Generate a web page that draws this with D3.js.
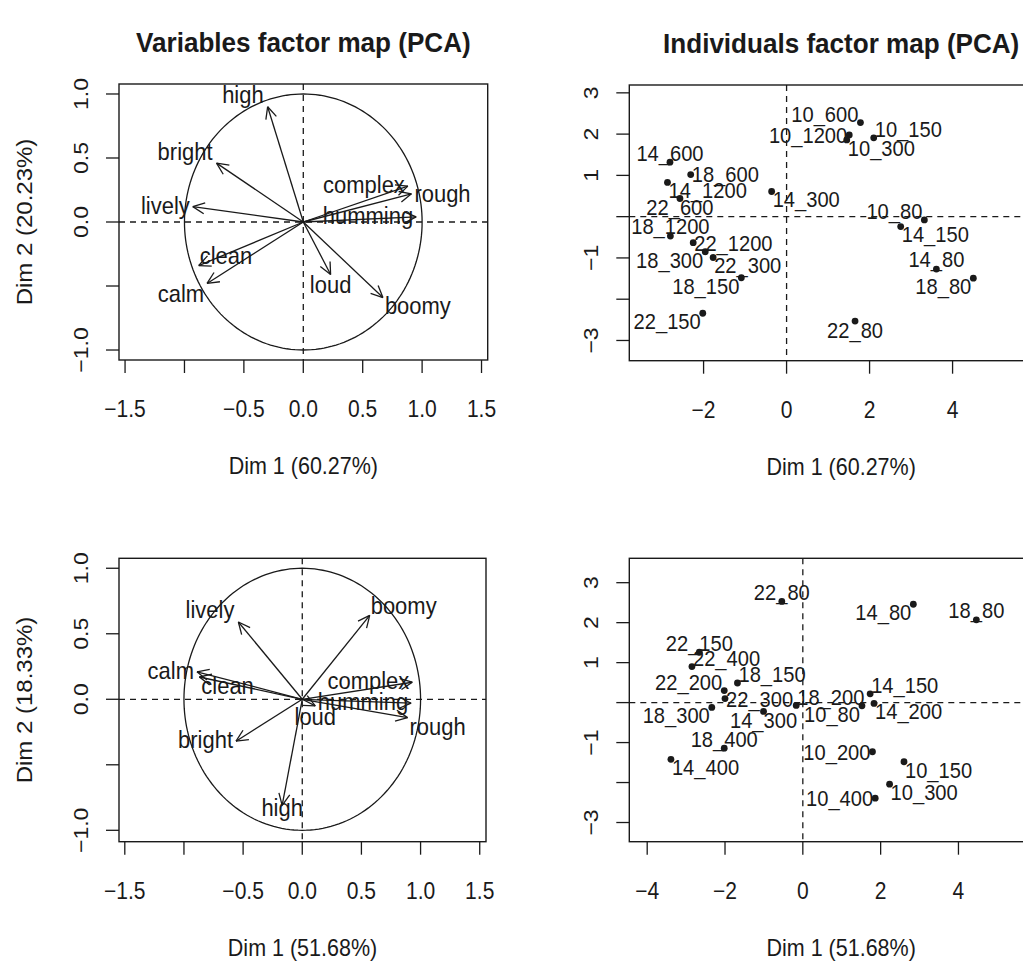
<!DOCTYPE html>
<html><head><meta charset="utf-8">
<script src="https://cdn.jsdelivr.net/npm/d3@7"></script>
<style>
body{margin:0;background:#fff;}
text{font-family:"Liberation Sans",Arial,Helvetica,sans-serif;fill:#1a1a1a;}
</style></head><body>
<svg id="chart" width="1023" height="962"></svg>
<script>
// ---- first data set (top row) ----
const varNamesA = ["high","bright","lively","clean","calm","loud","boomy","complex","rough","humming"];
const varDim1A = [-0.30,-0.73,-0.93,-0.88,-0.81,0.23,0.67,0.88,0.91,0.95];
const varDim2A = [0.90,0.46,0.12,-0.34,-0.48,-0.41,-0.59,0.28,0.22,0.04];
const varPosA  = ["nw","nw","w","ne","sw","s","se","w","e","w"];

const indNamesA = ["10_600","10_1200","10_300","10_150","14_600","18_600","14_1200","22_600","14_300","10_80",
                   "14_150","18_1200","22_1200","18_300","22_300","18_150","14_80","18_80","22_150","22_80"];
const indDim1A = [1.78,1.51,1.45,2.10,-2.81,-2.31,-2.87,-2.57,-0.36,3.32,
                  2.75,-2.80,-2.25,-1.96,-1.77,-1.09,3.61,4.50,-2.02,1.65];
const indDim2A = [2.28,1.98,1.86,1.91,1.32,1.02,0.83,0.44,0.61,-0.08,
                  -0.24,-0.47,-0.63,-0.85,-0.99,-1.48,-1.27,-1.49,-2.34,-2.53];
const indPosA  = ["nw","w","se","ne","n","e","se","s","se","nw",
                  "se","n","e","sw","se","sw","n","sw","sw","s"];

// ---- second data set (bottom row) ----
const varNamesB = ["lively","boomy","calm","clean","complex","humming","rough","loud","bright","high"];
const varDim1B = [-0.54,0.57,-0.89,-0.87,0.93,0.92,0.89,0.11,-0.56,-0.17];
const varDim2B = [0.59,0.64,0.21,0.17,0.13,-0.03,-0.14,-0.05,-0.32,-0.81];
const varPosB  = ["nw","ne","w","se","w","w","se","s","w","c"];

const indNamesB = ["22_80","14_80","18_80","22_150","22_400","18_150","22_200","22_300","18_300","14_300",
                   "18_200","10_80","14_150","14_200","18_400","14_400","10_200","10_150","10_300","10_400"];
const indDim1B = [-0.54,2.84,4.46,-2.66,-2.85,-1.68,-2.02,-2.00,-2.34,-1.01,
                  -0.17,1.52,1.73,1.83,-2.02,-3.39,1.79,2.60,2.23,1.86];
const indDim2B = [2.53,2.46,2.07,1.26,0.90,0.49,0.30,0.10,-0.12,-0.22,
                  -0.07,-0.08,0.22,-0.02,-1.14,-1.42,-1.23,-1.48,-2.04,-2.39];
const indPosB  = ["n","sw","n","n","ne","ne","nw","e","sw","s",
                  "ne","sw","ne","se","n","se","w","se","se","w"];

// ---- axes ----
const varTicksX = [-1.5,-1,-0.5,0,0.5,1,1.5];
const varTickLabX = ["\u22121.5","","\u22120.5","0.0","0.5","1.0","1.5"];
const varTicksY = [-1,-0.5,0,0.5,1];
const varTickLabY = ["\u22121.0","","0.0","0.5","1.0"];
const indTicksXA = [-2,0,2,4];
const indTickLabXA = ["\u22122","0","2","4"];
const indTicksXB = [-4,-2,0,2,4];
const indTickLabXB = ["\u22124","\u22122","0","2","4"];
const indTicksY = [-3,-2,-1,0,1,2,3];
const indTickLabY = ["\u22123","","\u22121","","1","2","3"];

const svg = d3.select("#chart");
const SQ = 0.915;          // text is a bit narrower than tall in the picture
const INK = "#1a1a1a";

function txt(g, x, y, s, size, anchor, rot, weight) {
  let tr = "translate(" + x + "," + y + ") scale(" + SQ + ",1)";
  if (rot) tr += " rotate(-90)";
  return g.append("text").attr("transform", tr)
    .attr("text-anchor", anchor)
    .style("font-size", size + "px")
    .style("font-weight", weight || "normal")
    .text(s);
}

const placeInd = {n:[0,-9.5,"middle"], s:[0,9,"middle"], e:[1,0,"start"], w:[-2,0,"end"],
                  ne:[1,-8.5,"start"], se:[1,8,"start"], nw:[-2,-8.5,"end"], sw:[-2,8,"end"]};
const placeVar = {n:[0,-11,"middle"], s:[0,11,"middle"], e:[3,0,"start"], w:[-3,-1,"end"],
                  ne:[1,-9,"start"], se:[2,9,"start"], nw:[-4,-11.5,"end"], sw:[-3,11,"end"],
                  c:[0,3,"middle"]};

function panel(p) {
  const g = svg.append("g");
  const x = d3.scaleLinear().domain(p.xd).range([p.box[0], p.box[1]]);
  const y = d3.scaleLinear().domain(p.yd).range([p.box[3], p.box[2]]);
  const [x0, x1, y0, y1] = p.box;

  // dashed axes through the origin
  g.append("line").attr("x1", x(0)).attr("x2", x(0)).attr("y1", y0).attr("y2", y1)
    .attr("stroke", INK).attr("stroke-width", 1.3).attr("stroke-dasharray", "6,5");
  g.append("line").attr("x1", x0).attr("x2", x1).attr("y1", y(0)).attr("y2", y(0))
    .attr("stroke", INK).attr("stroke-width", 1.3).attr("stroke-dasharray", "6,5");

  // box
  g.append("rect").attr("x", x0).attr("y", y0).attr("width", x1 - x0).attr("height", y1 - y0)
    .attr("fill", "none").attr("stroke", INK).attr("stroke-width", 1.4);

  // ticks
  p.xt.forEach((v, i) => {
    g.append("line").attr("x1", x(v)).attr("x2", x(v)).attr("y1", y1).attr("y2", y1 + 13)
      .attr("stroke", INK).attr("stroke-width", 1.3);
    if (p.xl[i]) txt(g, x(v), y1 + 57, p.xl[i], 23, "middle");
  });
  p.yt.forEach((v, i) => {
    g.append("line").attr("x1", x0).attr("x2", x0 - 13).attr("y1", y(v)).attr("y2", y(v))
      .attr("stroke", INK).attr("stroke-width", 1.3);
    if (p.yl[i]) txt(g, x0 - 31, y(v), p.yl[i], 23, "middle", true);
  });

  if (p.title) txt(g, (x0 + x1) / 2, y0 - 32, p.title, 28.5, "middle", false, "bold");
  txt(g, (x0 + x1) / 2, y1 + 114, p.xlab, 23.5, "middle");
  if (p.ylab) txt(g, 32, (y0 + y1) / 2, p.ylab, 24, "middle", true);

  if (p.vars) {
    // correlation circle
    const circ = d3.range(0, 361, 2).map(a => [Math.cos(a * Math.PI / 180), Math.sin(a * Math.PI / 180)]);
    g.append("path").attr("d", d3.line().x(d => x(d[0])).y(d => y(d[1]))(circ))
      .attr("fill", "none").attr("stroke", INK).attr("stroke-width", 1.3);
    p.names.forEach((nm, i) => {
      const tx = x(p.d1[i]), ty = y(p.d2[i]), ox = x(0), oy = y(0);
      g.append("line").attr("x1", ox).attr("y1", oy).attr("x2", tx).attr("y2", ty)
        .attr("stroke", INK).attr("stroke-width", 1.3);
      const ang = Math.atan2(ty - oy, tx - ox), L = 13, spread = 25 * Math.PI / 180;
      [-1, 1].forEach(sg => {
        g.append("line").attr("x1", tx).attr("y1", ty)
          .attr("x2", tx - L * Math.cos(ang + sg * spread))
          .attr("y2", ty - L * Math.sin(ang + sg * spread))
          .attr("stroke", INK).attr("stroke-width", 1.3);
      });
      const pl = placeVar[p.pos[i]];
      txt(g, tx + pl[0], ty + pl[1] + 0.33 * 24, nm, 24, pl[2]);
    });
  } else {
    p.names.forEach((nm, i) => {
      const px = x(p.d1[i]), py = y(p.d2[i]);
      g.append("circle").attr("cx", px).attr("cy", py).attr("r", 3.4).attr("fill", INK);
      const pl = placeInd[p.pos[i]];
      txt(g, px + pl[0], py + pl[1] + 0.36 * 22, nm, 22, pl[2]);
    });
  }
}

panel({box: [119, 487.7, 84, 360], xd: [-1.551, 1.552], yd: [-1.078, 1.078],
       xt: varTicksX, xl: varTickLabX, yt: varTicksY, yl: varTickLabY,
       title: "Variables factor map (PCA)", xlab: "Dim 1 (60.27%)", ylab: "Dim 2 (20.23%)",
       vars: true, names: varNamesA, d1: varDim1A, d2: varDim2A, pos: varPosA});

panel({box: [629.3, 1053, 85, 360.7], xd: [-3.79, 6.42], yd: [-3.49, 3.19],
       xt: indTicksXA, xl: indTickLabXA, yt: indTicksY, yl: indTickLabY,
       title: "Individuals factor map (PCA)", xlab: "Dim 1 (60.27%)",
       vars: false, names: indNamesA, d1: indDim1A, d2: indDim2A, pos: indPosA});

panel({box: [119, 486, 558.3, 841.7], xd: [-1.549, 1.553], yd: [-1.087, 1.076],
       xt: varTicksX, xl: varTickLabX, yt: varTicksY, yl: varTickLabY,
       xlab: "Dim 1 (51.68%)", ylab: "Dim 2 (18.33%)",
       vars: true, names: varNamesB, d1: varDim1B, d2: varDim2B, pos: varPosB});

panel({box: [629.3, 1053, 558.3, 841.7], xd: [-4.46, 6.43], yd: [-3.48, 3.61],
       xt: indTicksXB, xl: indTickLabXB, yt: indTicksY, yl: indTickLabY,
       xlab: "Dim 1 (51.68%)",
       vars: false, names: indNamesB, d1: indDim1B, d2: indDim2B, pos: indPosB});
</script>
</body></html>
